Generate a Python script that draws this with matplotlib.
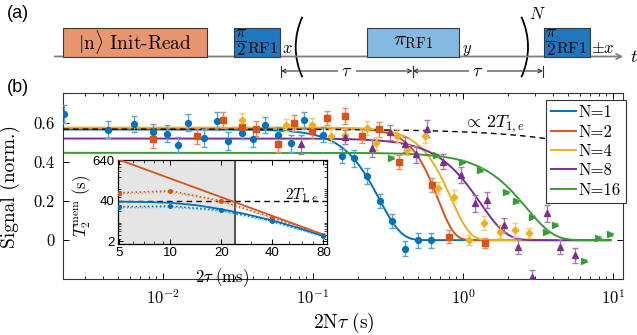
import numpy as np
import matplotlib
matplotlib.use('Agg')
import matplotlib.pyplot as plt
from matplotlib.patches import Rectangle, Arc
from matplotlib.ticker import NullFormatter, FixedLocator

plt.rcParams['font.family'] = 'serif'
plt.rcParams['font.serif'] = ['cmr10']
plt.rcParams['mathtext.fontset'] = 'cm'
plt.rcParams['axes.formatter.use_mathtext'] = True

W, H = 637, 335

# ------------------------------------------------------------
# data, panel (b) : signal vs total time 2N tau (s)
# ------------------------------------------------------------
t_n1 = [0.00219, 0.00432, 0.00641, 0.00853, 0.0106, 0.01265, 0.01475, 0.01884, 0.0230, 0.0272,
        0.0335, 0.0397, 0.0479, 0.0582, 0.0710, 0.0871, 0.116, 0.157, 0.188, 0.230,
        0.280, 0.338, 0.410, 0.504, 0.609]
y_n1 = [0.644, 0.565, 0.592, 0.553, 0.544, 0.485, 0.600, 0.522, 0.607, 0.505,
        0.546, 0.519, 0.587, 0.539, 0.494, 0.612, 0.539, 0.430, 0.417, 0.329,
        0.200, 0.098, -0.044, 0.000, 0.000]
e_n1 = [0.045, 0.041, 0.042, 0.040, 0.042, 0.040, 0.044, 0.046, 0.045, 0.045,
        0.030, 0.042, 0.042, 0.040, 0.042, 0.045, 0.040, 0.038, 0.042, 0.040,
        0.038, 0.038, 0.038, 0.039, 0.039]

t_n2 = [0.00853, 0.01676, 0.0252, 0.0335, 0.0417, 0.0582, 0.0747, 0.099, 0.1234, 0.163,
        0.213, 0.277, 0.371, 0.624, 0.811, 1.40]
y_n2 = [0.516, 0.532, 0.612, 0.578, 0.570, 0.489, 0.596, 0.556, 0.624, 0.634,
        0.532, 0.566, 0.400, 0.281, 0.018, -0.015]
e_n2 = [0.044, 0.040, 0.040, 0.035, 0.040, 0.038, 0.041, 0.040, 0.037, 0.040,
        0.035, 0.038, 0.036, 0.034, 0.032, 0.024]

t_n4 = [0.0335, 0.066, 0.099, 0.132, 0.163, 0.230, 0.262, 0.361, 0.425, 0.558,
        0.678, 0.871, 1.10, 1.38, 1.76, 2.22, 2.77]
y_n4 = [0.612, 0.590, 0.590, 0.532, 0.539, 0.573, 0.494, 0.532, 0.460, 0.532,
        0.265, 0.222, 0.000, 0.087, 0.044, 0.052, 0.036]
e_n4 = [0.039, 0.031, 0.036, 0.035, 0.030, 0.034, 0.034, 0.034, 0.027, 0.034,
        0.031, 0.034, 0.027, 0.034, 0.032, 0.034, 0.027]

t_n8 = [0.0832, 0.163, 0.246, 0.326, 0.410, 0.486, 0.573, 0.732, 0.965, 1.20,
        1.45, 1.86, 2.34, 2.87, 3.61, 4.43, 5.58]
y_n8 = [0.489, 0.527, 0.471, 0.550, 0.489, 0.438, 0.570, 0.400, 0.332, 0.188,
        0.205, 0.078, -0.033, -0.190, 0.137, -0.033, -0.078]
e_n8 = [0.047, 0.038, 0.047, 0.040, 0.038, 0.042, 0.042, 0.038, 0.042, 0.042,
        0.042, 0.034, 0.040, 0.040, 0.042, 0.037, 0.038]

t_n16 = [0.331, 0.661, 0.98, 1.30, 1.94, 2.26, 2.87, 3.57, 4.10, 6.41, 7.98, 9.55]
y_n16 = [0.420, 0.434, 0.400, 0.358, 0.244, 0.200, 0.120, 0.044, 0.078, -0.105, 0.013, 0.030]
e_n16 = [0.008] * len(t_n16)

# fit parameters  S(t) = A exp(-(t/T)^n)
fit_A = [0.565, 0.572, 0.575, 0.519, 0.446]
fit_T = [0.277, 0.68, 0.834, 1.30, 2.65]
fit_n = [3.0, 4.0, 3.5, 2.5, 2.4]
t1_A, t1_T = 0.567, 40.0   # dashed  ~ 2 T_1,e decay

labels = ['N=1', 'N=2', 'N=4', 'N=8', 'N=16']
colors = ['#0072BD', '#D95319', '#EDB120', '#7E2F8E', '#3A9A35']
ecolors = ['#5aa3d9', '#e88e66', '#f3cc6e', '#a77ab2', '#7cc073']
markers = ['o', 's', 'D', '^', '>']
msizes = [4.2, 4.0, 3.4, 4.6, 4.4]

# ------------------------------------------------------------
# data, inset : T2 mem (s) vs 2 tau (ms)
# ------------------------------------------------------------
tau2 = [5, 10, 20, 40, 80]
or_line_x = [5, 80]
or_line_y = [650, 4.0]
or_dot = [69, 79, 40, 12.6, 4.0]
or_dot_lo = [63, 73, 37, 12.0, 3.9]
bl_line_x = [5, 7, 10, 14, 20, 28, 40, 57, 80]
bl_line_y = [37.5, 36.8, 34.8, 29.8, 22.5, 16.0, 10.5, 6.3, 3.6]
bl_dot = [26.6, 27.9, 21.1, 10.0, 3.6]
bl_dot_lo = [24.5, 25.8, 19.8, 9.4, 3.4]
t1e_level = 40
shade_end = 24

fig = plt.figure(figsize=(W / 100, H / 100), dpi=100)

# ============================================================
# panel (a) : pulse sequence (axes in pixel units)
# ============================================================
axa = fig.add_axes([0, 1 - 85 / H, 1, 85 / H])
axa.set_xlim(0, W)
axa.set_ylim(85, 0)
axa.axis('off')

base_y, top_y = 56.5, 28.3
axa.annotate('', xy=(626, base_y), xytext=(52, base_y),
             arrowprops=dict(arrowstyle='->', color='#7f7f7f', lw=1.3, mutation_scale=9))

blk_x0 = [63, 234.3, 367, 544]
blk_x1 = [206.5, 280.3, 458.5, 590]
blk_col = ['#E9956E', '#1F78BE', '#84BAE2', '#1F78BE']
for x0, x1, c in zip(blk_x0, blk_x1, blk_col):
    axa.add_patch(Rectangle((x0, top_y), x1 - x0, base_y - top_y, fc=c, ec='#3a3a3a', lw=0.8, zorder=3))

axa.text((blk_x0[0] + blk_x1[0]) / 2, 42, r'$|\mathrm{n}\rangle$ Init-Read',
         ha='center', va='center', fontsize=14, zorder=4)
axa.text((blk_x0[2] + blk_x1[2]) / 2, 42, r'$\pi_{\mathrm{RF1}}$',
         ha='center', va='center', fontsize=15, zorder=4)
for x0 in (blk_x0[1], blk_x0[3]):
    axa.text(x0 + 7, 42.3, r'$\dfrac{\pi}{2}$', ha='center', va='center', fontsize=12.5, zorder=4)
    axa.text(x0 + 12.5, 53.3, r'$\mathrm{RF1}$', ha='left', va='baseline', fontsize=11.5, zorder=4)

axa.text(287, 48, r'$x$', ha='center', va='center', fontsize=12)
axa.text(467, 50, r'$y$', ha='center', va='center', fontsize=12)
axa.text(603, 48, r'$\pm x$', ha='center', va='center', fontsize=12)
axa.text(634, 57, r'$t$', ha='center', va='center', fontsize=13)
axa.text(537, 14, r'$N$', ha='center', va='center', fontsize=12)

r_par = 71.5
axa.add_patch(Arc((295.7 + r_par, 47), 2 * r_par, 2 * r_par, theta1=155, theta2=205, color='k', lw=1.3))
axa.add_patch(Arc((528 - r_par, 47), 2 * r_par, 2 * r_par, theta1=-25, theta2=25, color='k', lw=1.3))

tau_y = 71
for xa, xb in [(281, 412.6), (412.6, 543)]:
    axa.annotate('', xy=(xb, tau_y), xytext=(xa, tau_y),
                 arrowprops=dict(arrowstyle='<->', color='#333333', lw=0.8,
                                 mutation_scale=7, shrinkA=0, shrinkB=0))
    for xv in (xa, xb):
        axa.plot([xv, xv], [tau_y - 5.5, tau_y + 5.5], color='#333333', lw=0.8)
    axa.text((xa + xb) / 2, tau_y, r'$\tau$', ha='center', va='center', fontsize=13,
             bbox=dict(fc='white', ec='none', pad=2.5))

fig.text(17.5 / W, 1 - 13.5 / H, '(a)', family='Liberation Sans', fontsize=13, ha='center', va='center')
fig.text(17.5 / W, 1 - 87 / H, '(b)', family='Liberation Sans', fontsize=13, ha='center', va='center')

# ============================================================
# panel (b) : main plot
# ============================================================
ax = fig.add_axes([63.3 / W, 1 - 279.3 / H, 560 / W, 186 / H])
ax.set_xscale('log')
ax.set_xlim(2.16e-3, 11.7)
ax.set_ylim(-0.2, 0.75)

tt = np.logspace(np.log10(2.16e-3), np.log10(9.6), 400)
fit_lines = []
for A, T, n, c in zip(fit_A, fit_T, fit_n, colors):
    ln, = ax.plot(tt, A * np.exp(-(tt / T) ** n), color=c, lw=1.4, zorder=2)
    fit_lines.append(ln)
ax.plot(tt, t1_A * np.exp(-tt / t1_T), color='k', lw=1.0, ls=(0, (4, 3)), zorder=3)

series = [(t_n1, y_n1, e_n1), (t_n2, y_n2, e_n2), (t_n4, y_n4, e_n4),
          (t_n8, y_n8, e_n8), (t_n16, y_n16, e_n16)]
for (t, y, e), c, ec, m, ms in zip(series, colors, ecolors, markers, msizes):
    ax.errorbar(t, y, yerr=e, fmt=m, color=c, ecolor=ec, ms=ms, capsize=2.3,
                elinewidth=1.0, capthick=1.0, mec=c, mfc=c, zorder=4)

ax.text(1.6, 0.593, r'$\propto\,2T_{1,e}$', ha='center', va='center', fontsize=13)

ax.set_yticks([0, 0.2, 0.4, 0.6])
ax.set_yticklabels(['0', '0.2', '0.4', '0.6'])
ax.tick_params(which='both', direction='in', top=True, right=True, labelsize=12, pad=6)
ax.tick_params(which='major', length=4.5, width=0.7)
ax.tick_params(which='minor', length=2.5, width=0.6)
for sp in ax.spines.values():
    sp.set_color('#333333')
    sp.set_linewidth(0.8)

ax.set_xlabel(r'$2\mathrm{N}\tau\ (\mathrm{s})$', fontsize=14)
ax.xaxis.set_label_coords(0.5, -0.17)
ax.set_ylabel('Signal (norm.)', fontsize=14)
ax.yaxis.set_label_coords(-0.077, 0.5)

leg = ax.legend(fit_lines, labels, loc='upper left', bbox_to_anchor=(0.862, 0.964),
                borderaxespad=0, fontsize=12, handlelength=1.5, handletextpad=0.15,
                labelspacing=0.24, borderpad=0.3, fancybox=False, framealpha=1,
                edgecolor='#333333')
leg.get_frame().set_linewidth(0.8)

# ============================================================
# inset
# ============================================================
axi = fig.add_axes([117.7 / W, 1 - 244 / H, 209 / W, 84 / H])
axi.set_xscale('log')
axi.set_yscale('log')
axi.set_xlim(4.89, 83.8)
axi.set_ylim(2.1, 643)
axi.axvspan(4.89, shade_end, color='#e5e5e5', zorder=0)
axi.axvline(shade_end, color='#555555', lw=1.4, zorder=1)
axi.axhline(t1e_level, color='k', lw=1.0, ls=(0, (4, 3)), zorder=2)

axi.plot(or_line_x, or_line_y, color=colors[1], lw=1.3, zorder=3)
axi.plot(tau2, or_dot_lo, color='#ee9a70', lw=1.0, ls=':', zorder=3)
axi.plot(tau2, or_dot, color=colors[1], lw=1.1, ls=':', marker='o', ms=2.6, zorder=4)
axi.plot(bl_line_x, bl_line_y, color=colors[0], lw=1.3, zorder=3)
axi.plot(tau2, bl_dot_lo, color='#4db0e6', lw=1.0, ls=':', zorder=3)
axi.plot(tau2, bl_dot, color=colors[0], lw=1.1, ls=':', marker='o', ms=2.6, zorder=4)

axi.text(60, 55, r'$2T_{1,e}$', ha='center', va='center', fontsize=11)

axi.xaxis.set_major_locator(FixedLocator(tau2))
axi.set_xticklabels([str(v) for v in tau2], family='Liberation Sans', fontsize=9.5)
axi.xaxis.set_minor_formatter(NullFormatter())
axi.yaxis.set_major_locator(FixedLocator([2.5, 40, 640]))
axi.set_yticklabels(['2', '40', '640'], family='Liberation Sans', fontsize=9.5)
axi.yaxis.set_minor_formatter(NullFormatter())
axi.tick_params(which='both', direction='in', top=True, right=True, pad=2)
axi.tick_params(which='major', length=3.5, width=0.7)
axi.tick_params(which='minor', length=2, width=0.5)
for sp in axi.spines.values():
    sp.set_linewidth(0.9)
axi.set_xlabel(r'$2\tau\ (\mathrm{ms})$', fontsize=12, labelpad=0)
axi.xaxis.set_label_coords(0.5, -0.27)
axi.set_ylabel(r'$T_2^{\mathrm{mem}}\ (\mathrm{s})$', fontsize=12)
axi.yaxis.set_label_coords(-0.12, 0.45)

plt.savefig('out.png', dpi=100)
